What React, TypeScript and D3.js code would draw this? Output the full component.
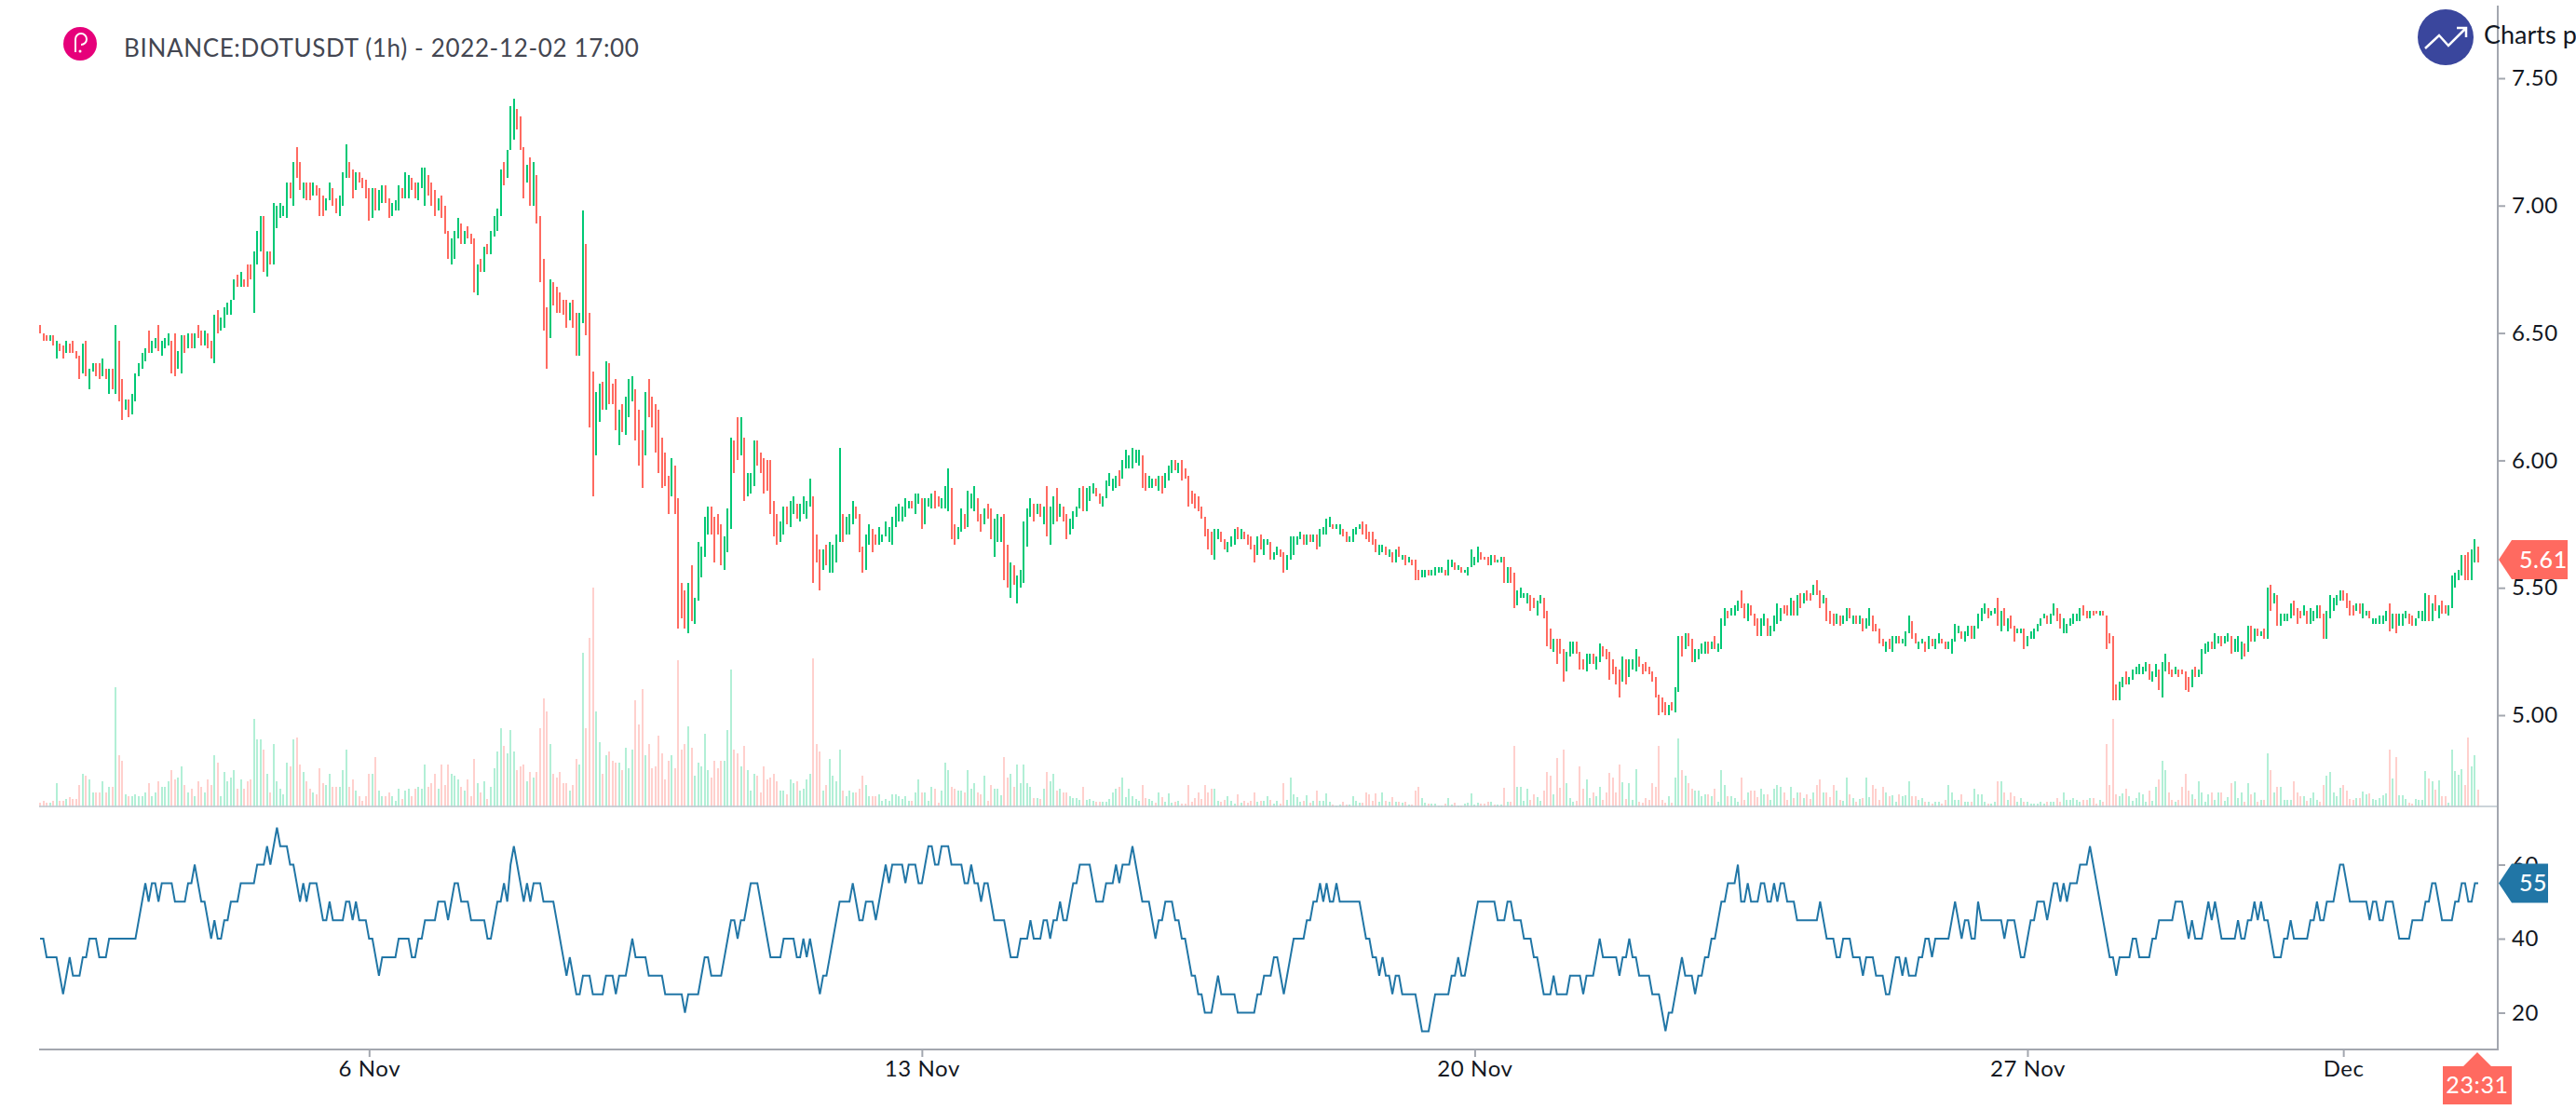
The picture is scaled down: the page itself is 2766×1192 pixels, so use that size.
import { useEffect, useRef } from 'react';
import * as d3 from 'd3';

const WIDTH = 2766;
const HEIGHT = 1192;
const FONT = 'Lato, "Open Sans", sans-serif';

// hourly bars, 1 Nov 20:00 -> 2 Dec 17:00, prices in cents
const highs = [
  653,650,649,649,649,647,646,645,647,646,647,643,641,646,647,636,638,638,638,640,
  636,636,636,653,647,632,624,624,626,634,638,642,644,651,647,648,653,647,648,650,
  647,650,643,649,649,650,650,650,653,651,651,650,647,657,659,656,660,662,663,671,
  673,674,671,677,677,682,690,696,696,682,682,701,700,701,700,709,709,717,723,717,
  709,709,709,709,708,707,704,703,709,707,703,704,713,724,717,714,713,713,711,710,
  707,707,707,706,708,708,703,701,702,708,707,713,712,711,709,709,715,715,712,709,
  706,703,704,700,690,687,690,695,693,690,692,689,687,677,679,684,685,690,696,699,
  714,717,722,739,742,738,735,723,716,719,717,712,696,679,660,671,670,668,666,663,
  663,662,663,658,658,698,685,658,635,627,630,631,639,638,630,632,620,622,625,632,
  633,628,620,612,627,632,625,622,620,609,603,594,601,598,585,552,549,552,559,546,
  568,566,578,582,582,578,579,575,570,581,609,608,617,617,609,595,595,608,608,603,
  601,600,600,584,579,576,582,582,584,586,583,583,586,584,593,586,571,565,565,567,
  568,567,571,605,579,578,579,584,582,579,566,571,575,573,571,574,571,576,574,578,
  582,583,582,585,584,584,587,587,585,585,585,587,588,586,585,590,597,589,575,574,
  581,579,588,587,590,585,579,581,583,581,577,579,578,579,567,560,559,555,557,576,
  581,585,583,583,583,582,590,582,586,589,583,582,579,577,580,582,589,590,589,590,
  591,589,587,586,592,595,593,594,596,600,604,602,605,604,604,602,595,594,593,593,
  594,594,595,598,600,600,599,600,597,594,588,587,586,582,578,573,572,573,573,572,
  569,568,570,573,574,573,572,571,570,567,570,571,569,569,568,564,566,565,564,563,
  570,570,570,572,571,571,571,571,571,573,574,577,578,575,575,575,573,572,570,573,
  574,575,576,575,572,572,569,567,567,566,565,564,565,566,563,563,562,561,561,557,
  557,557,557,557,558,558,558,557,561,561,560,559,558,557,558,565,562,566,564,562,
  562,563,563,561,562,562,558,558,556,549,550,548,548,547,546,545,547,546,541,534,
  530,530,530,526,525,529,529,529,525,522,524,524,524,523,528,527,526,525,522,519,
  518,523,522,522,522,526,523,520,521,519,517,515,508,507,505,504,505,511,531,531,
  532,532,530,526,526,528,529,529,529,531,528,538,542,541,542,543,545,549,544,544,
  543,540,538,538,540,538,535,539,544,542,543,543,546,545,547,548,548,549,548,551,
  553,549,547,546,541,540,540,539,539,542,542,539,539,539,538,538,542,539,536,534,
  530,529,530,531,531,531,530,533,539,537,532,529,530,529,531,530,530,532,530,529,
  529,530,536,535,533,533,535,535,535,540,542,544,542,541,542,546,541,542,538,539,
  535,534,534,534,531,533,534,536,538,540,539,540,544,542,540,538,536,538,540,540,
  542,543,541,541,541,541,541,541,539,532,531,512,513,515,517,515,518,519,520,519,
  521,520,517,520,518,521,524,521,518,519,518,518,517,515,518,519,518,526,528,529,
  529,532,531,531,531,532,531,530,531,529,528,535,535,534,534,533,534,550,551,548,
  547,540,540,540,544,545,542,541,543,541,542,541,543,543,540,541,547,546,547,549,
  549,548,545,543,544,544,544,541,541,538,538,539,539,541,544,540,540,540,540,541,
  540,539,538,541,541,548,547,544,547,543,545,543,543,555,556,557,563,563,564,565,
  569,566,
];

const lows = [
  650,647,647,647,645,640,643,640,642,642,642,640,632,634,633,628,635,633,632,633,
  632,626,628,626,623,616,620,617,618,623,633,636,639,642,642,644,643,641,644,645,
  634,633,636,634,642,644,644,644,648,645,645,644,640,638,650,651,652,657,657,663,
  668,668,668,668,671,658,677,682,674,672,677,677,691,695,696,695,703,700,711,706,
  703,702,702,704,704,696,696,698,702,700,697,696,700,711,711,703,706,709,707,703,
  694,695,698,698,701,701,695,696,698,698,703,703,703,706,703,702,707,700,704,700,
  696,698,695,689,679,677,679,687,685,685,687,685,666,665,674,674,681,681,688,690,
  696,708,711,722,726,730,722,703,709,700,700,693,670,651,636,648,661,658,658,657,
  652,655,652,641,641,654,649,613,586,602,615,620,620,622,622,612,606,611,610,617,
  623,608,598,589,602,617,613,603,595,589,590,579,586,579,534,538,534,532,537,536,
  545,554,562,571,571,560,571,559,557,564,573,595,600,602,584,586,587,590,598,595,
  587,588,579,570,567,568,571,575,574,579,577,576,579,577,582,552,560,549,557,559,
  556,556,560,568,568,571,571,575,577,564,556,557,567,564,567,567,568,570,568,567,
  574,576,576,578,581,581,579,583,573,575,582,581,581,582,581,581,580,569,567,569,
  572,573,574,581,580,576,572,575,577,569,562,568,568,553,550,546,551,544,550,552,
  566,578,576,579,578,575,570,567,575,576,578,576,569,571,573,578,581,580,580,584,
  587,586,583,582,585,590,588,589,590,593,597,597,597,599,598,589,588,589,589,590,
  588,587,589,592,595,596,595,592,593,582,583,581,580,577,570,565,563,561,569,568,
  565,564,566,567,569,569,569,567,565,560,563,565,563,567,561,561,563,562,556,557,
  561,563,567,569,567,567,568,568,565,566,571,571,574,573,573,571,570,568,568,568,
  571,573,571,569,568,567,564,563,564,563,562,560,560,562,561,559,560,559,553,553,
  554,554,555,555,555,556,556,555,555,558,557,557,556,556,555,558,559,560,561,561,
  559,559,560,560,560,552,552,552,542,543,546,546,544,541,542,539,544,538,527,526,
  525,520,524,513,517,523,524,524,518,518,517,520,520,518,521,523,522,514,516,512,
  507,513,512,515,518,517,519,516,517,516,513,507,500,501,500,500,502,501,509,523,
  526,527,521,521,522,524,524,524,526,526,525,526,535,538,539,539,541,542,538,537,
  539,535,531,531,535,531,531,533,536,537,540,539,539,539,539,542,544,545,545,547,
  547,542,544,537,536,535,536,535,536,537,538,536,536,536,533,534,535,533,533,528,
  527,525,526,525,528,528,528,527,532,530,528,526,528,525,526,527,526,528,528,526,
  526,524,529,532,530,529,531,530,530,534,537,540,538,539,540,535,533,535,533,534,
  529,532,532,526,527,530,530,533,535,538,536,536,539,537,534,532,532,535,536,537,
  537,539,538,538,539,540,539,539,526,528,506,506,506,511,512,512,514,516,516,516,
  517,514,513,515,510,507,517,516,515,516,515,516,510,509,511,515,515,516,524,525,
  526,526,528,527,528,529,524,525,525,522,523,525,529,529,531,531,530,530,541,544,
  535,535,537,537,538,539,536,538,539,536,536,537,538,538,530,530,538,541,543,545,
  545,542,539,539,541,540,538,539,538,536,536,536,536,537,533,534,532,535,535,538,
  536,535,535,538,537,537,537,537,541,538,540,540,539,542,550,553,555,553,553,553,
  560,560,
];

// 1 = up bar, 0 = down bar
const ups = [
  0,0,0,1,0,1,0,0,1,0,0,0,0,1,0,1,1,0,0,1,
  0,1,0,1,0,0,1,0,1,1,1,1,1,0,1,1,0,1,1,1,
  0,0,1,1,0,1,0,1,0,0,1,0,0,1,0,1,1,1,1,1,
  0,1,0,0,0,1,1,1,0,1,0,1,1,1,1,1,0,1,0,0,
  1,0,0,1,0,0,0,1,1,0,0,1,1,1,0,0,1,0,0,0,
  0,1,0,1,1,0,0,1,1,1,0,1,1,0,0,1,1,1,0,0,
  0,1,0,0,0,1,1,1,0,1,0,0,0,1,0,1,0,1,1,1,
  1,0,1,1,1,0,0,0,1,0,1,0,0,0,0,1,0,0,0,0,
  0,1,0,0,1,1,0,0,0,1,1,0,1,0,0,0,1,0,1,1,
  1,0,0,0,1,0,0,0,0,0,0,0,1,0,0,0,0,1,0,1,
  1,1,1,1,0,0,0,0,1,1,1,0,0,1,0,1,1,1,0,0,
  0,0,0,0,0,1,1,0,1,1,0,1,1,1,1,0,0,0,1,0,
  1,1,1,1,0,1,1,1,0,0,0,1,1,0,0,1,1,1,1,1,
  1,1,1,1,1,0,1,1,0,1,1,1,0,0,1,1,1,0,0,1,
  1,0,1,1,1,0,0,1,0,0,1,1,1,0,0,1,0,1,1,1,
  1,1,0,1,0,1,0,1,1,0,1,0,0,1,1,1,1,0,1,1,
  1,0,0,1,1,1,1,1,0,1,1,1,1,1,1,0,0,1,1,0,
  1,0,1,1,1,0,1,0,0,0,0,0,0,0,0,0,0,1,1,0,
  0,1,1,1,0,1,0,0,0,0,1,0,1,1,0,1,1,0,0,1,
  1,1,1,1,0,1,0,1,0,1,1,1,1,0,1,1,0,0,1,1,
  1,1,0,0,0,0,0,1,1,0,1,0,1,0,1,0,1,0,0,0,
  1,1,0,1,1,1,1,0,1,1,0,1,0,1,1,1,1,1,0,0,
  0,1,0,1,1,0,1,0,0,1,1,1,1,0,0,1,1,0,0,0,
  1,0,0,0,1,1,1,0,0,0,1,1,0,1,1,0,0,0,0,0,
  0,1,0,1,1,1,0,0,0,0,0,0,0,0,0,1,0,1,1,0,
  1,0,0,1,1,1,1,0,1,0,1,1,1,0,1,1,1,0,0,1,
  0,0,0,1,1,0,1,1,1,1,0,0,1,0,1,0,1,0,0,1,
  0,0,1,0,0,0,1,0,1,1,0,1,0,1,0,1,1,0,0,0,
  0,1,0,1,1,0,1,1,1,0,0,1,1,0,1,0,1,1,0,0,
  1,1,1,1,0,1,1,0,1,1,1,1,0,1,1,0,1,0,1,0,
  0,1,1,0,1,1,1,1,1,1,0,1,1,0,0,1,1,1,1,1,
  1,0,0,1,0,0,1,0,0,0,0,0,1,1,0,1,1,1,1,1,
  1,0,1,1,0,1,1,0,0,1,0,0,0,0,1,0,1,1,1,1,
  0,1,1,0,1,1,0,1,1,1,0,1,0,1,0,1,0,1,0,1,
  0,1,1,1,1,0,0,0,1,0,1,1,1,0,0,1,1,1,1,1,
  0,0,0,0,1,0,1,1,0,1,1,1,1,1,0,1,0,1,1,1,
  0,0,1,1,1,1,0,1,0,1,0,0,1,1,1,1,1,0,0,1,
  1,0,
];

const volumes = [
  4,6,4,4,6,25,6,6,8,10,8,8,23,35,33,29,15,15,15,27,
  15,21,21,128,55,49,13,11,11,13,11,11,15,25,11,15,27,21,21,27,
  39,29,31,43,23,15,19,11,27,21,15,29,23,55,47,11,37,27,31,39,
  19,29,19,27,29,94,72,72,61,35,15,67,27,19,13,47,43,72,74,45,
  37,27,19,15,13,41,25,23,35,21,21,21,39,61,21,29,17,11,6,11,
  35,35,53,17,11,11,15,11,6,19,8,17,19,11,19,21,19,45,21,25,
  35,19,45,23,45,35,33,29,21,17,29,11,51,25,15,27,8,21,41,59,
  84,65,57,82,59,39,43,45,27,37,31,37,84,116,102,67,35,31,37,25,
  25,17,23,51,45,165,84,181,235,102,69,35,55,59,49,47,47,39,63,41,
  61,114,88,126,55,67,41,43,76,57,29,49,55,41,157,61,67,86,63,33,
  47,43,78,39,31,49,41,49,49,82,147,61,57,43,65,39,17,35,33,15,
  43,29,31,35,27,17,17,13,29,25,27,17,19,29,35,159,67,59,17,23,
  51,33,27,61,17,11,17,15,15,19,33,23,11,11,11,13,6,8,6,13,
  13,11,8,11,6,6,15,29,15,15,6,21,19,4,17,47,39,21,19,17,
  17,15,39,19,25,15,13,33,6,23,19,19,12,53,31,35,21,45,25,45,
  25,21,9,9,8,19,37,27,35,17,19,15,15,11,9,9,7,21,7,8,
  6,5,5,5,5,8,15,19,21,31,10,19,11,8,6,23,9,8,6,4,
  15,10,5,14,4,5,6,3,3,23,5,9,15,8,23,15,19,19,6,5,
  7,11,6,3,13,4,6,4,6,15,5,6,6,11,7,3,6,3,25,7,
  31,13,10,5,6,12,4,6,17,6,6,14,5,2,1,2,5,2,2,11,
  6,4,4,15,13,6,14,5,15,6,5,10,5,5,4,5,2,2,17,21,
  9,4,3,3,3,1,1,3,9,2,4,1,1,3,4,14,2,4,3,3,
  5,5,2,2,2,20,5,5,65,21,21,6,19,7,13,10,6,17,37,33,
  13,52,20,61,25,9,5,6,43,19,29,9,15,11,21,7,15,36,31,15,
  45,26,8,25,7,40,5,4,9,7,25,21,65,7,4,11,4,31,73,39,
  33,25,19,17,17,11,13,13,11,19,5,39,23,11,11,9,5,31,7,15,
  17,17,10,19,13,13,7,19,23,21,15,7,21,9,15,15,9,13,8,15,
  23,29,15,15,10,23,17,7,6,31,13,9,5,8,9,31,10,23,19,7,
  21,15,11,12,5,13,11,12,27,11,11,7,9,5,5,3,5,5,3,7,
  23,15,7,7,13,5,5,5,19,13,13,5,3,3,5,27,27,15,7,15,
  11,5,9,5,5,3,3,3,5,3,5,5,5,9,5,15,7,7,9,7,
  5,7,7,9,9,3,7,5,67,23,94,13,11,14,19,11,6,9,15,13,
  5,17,6,21,29,49,39,15,7,5,7,21,35,17,13,8,27,15,5,13,
  15,7,15,15,6,10,25,27,9,15,5,25,13,15,5,7,7,57,39,15,
  21,21,7,7,7,27,15,11,11,6,9,15,7,5,23,33,37,15,11,20,
  23,17,8,7,9,9,16,13,14,8,7,9,12,14,61,30,53,12,12,8,
  4,3,8,7,7,38,30,27,18,28,11,11,4,61,38,34,40,23,74,43,
  55,18,
];

const rsi = [
  40,40,35,35,35,35,30,25,30,35,30,30,30,35,35,40,40,40,35,35,
  35,40,40,40,40,40,40,40,40,40,45,50,55,50,55,55,50,55,55,55,
  55,50,50,50,50,55,55,60,55,50,50,45,40,45,40,40,45,45,50,50,
  50,55,55,55,55,55,60,60,60,65,60,65,70,65,65,65,60,60,55,50,
  55,50,55,55,55,50,45,45,50,45,45,45,45,50,50,45,50,45,45,45,
  40,40,35,30,35,35,35,35,35,40,40,40,40,35,35,40,40,45,45,45,
  45,50,50,50,45,50,55,55,50,50,50,45,45,45,45,45,40,40,45,50,
  50,55,50,60,65,60,55,50,55,50,55,55,55,50,50,50,50,45,40,35,
  30,35,30,25,25,30,30,30,25,25,25,25,30,30,30,25,30,30,30,35,
  40,35,35,35,35,30,30,30,30,30,25,25,25,25,25,25,20,25,25,25,
  25,30,35,35,30,30,30,30,35,40,45,45,40,45,45,50,55,55,55,50,
  45,40,35,35,35,35,40,40,40,40,35,35,40,35,40,35,30,25,30,30,
  35,40,45,50,50,50,50,55,50,45,45,50,50,50,45,50,55,60,55,60,
  60,60,60,55,60,60,60,55,55,60,65,65,60,60,65,65,65,60,60,60,
  60,55,55,60,55,55,50,55,55,50,45,45,45,45,40,35,35,35,40,40,
  40,45,40,40,40,45,45,40,45,45,50,45,45,50,55,55,60,60,60,60,
  55,50,50,50,55,55,55,60,55,60,60,60,65,60,55,50,50,50,45,40,
  45,45,50,50,50,45,45,40,40,35,30,30,25,25,20,20,20,25,30,25,
  25,25,25,25,20,20,20,20,20,20,25,25,30,30,30,35,35,30,25,30,
  35,40,40,40,40,45,45,50,50,55,50,55,50,50,55,50,50,50,50,50,
  50,50,45,40,40,35,35,30,35,30,30,25,30,30,25,25,25,25,25,20,
  15,15,15,20,25,25,25,25,25,30,30,35,30,30,35,40,45,50,50,50,
  50,50,50,45,45,45,50,50,45,45,45,40,40,40,35,35,30,25,25,25,
  30,25,25,25,25,30,30,30,30,25,30,30,30,35,40,35,35,35,35,35,
  30,35,35,40,35,35,30,30,30,30,25,25,25,20,15,20,20,25,30,35,
  30,30,30,25,30,30,35,35,40,40,45,50,50,55,55,55,60,50,50,55,
  50,50,50,55,55,50,50,55,50,55,55,50,50,50,45,45,45,45,45,45,
  45,50,45,40,40,40,35,35,40,40,40,35,35,35,30,35,35,35,30,30,
  30,25,25,30,35,35,30,35,30,30,30,35,35,40,40,35,40,40,40,40,
  40,45,50,45,40,45,45,40,40,50,45,45,45,45,45,45,45,40,45,45,
  45,40,35,35,40,45,45,50,50,50,45,50,55,55,50,55,50,55,55,55,
  60,60,60,65,60,55,50,45,40,35,35,30,35,35,35,35,40,40,35,35,
  35,35,40,40,45,45,45,45,45,50,50,50,45,40,45,40,40,40,45,50,
  45,50,45,40,40,40,40,40,45,40,40,45,45,50,45,50,45,45,40,35,
  35,35,40,40,45,40,40,40,40,40,45,45,50,45,45,50,50,50,55,60,
  60,55,50,50,50,50,50,50,45,50,50,45,45,50,50,50,45,40,40,40,
  40,45,45,45,45,50,50,55,55,50,45,45,45,45,50,50,55,55,50,50,
  55,55,
];

const priceTicks = [5, 5.5, 6, 6.5, 7, 7.5];
const rsiTicks = [20, 40, 60];
const dateTicks = [100, 268, 436, 604, 700];
const dateLabels = ['6 Nov', '13 Nov', '20 Nov', '27 Nov', 'Dec'];

const lastPrice = 5.61;
const lastRsi = 55;
const countdown = '23:31';
const title = 'BINANCE:DOTUSDT (1h) - 2022-12-02 17:00';

const GREEN = '#00c875';
const RED = '#ff6a60';
const GREEN_VOL = '#b2efd6';
const RED_VOL = '#ffd0cd';
const RSI_BLUE = '#2176a6';
const AXIS = '#a3a7af';
const INK = '#131722';

const App = () => {
  const svgRef = useRef<SVGSVGElement | null>(null);

  useEffect(() => {
    if (svgRef.current === null) return;
    const svg = d3.select(svgRef.current);
    svg.selectAll('*').remove();

    const axisX = 2682;
    const bottom = 1127;
    const volBase = 866;

    const x = d3.scaleLinear().domain([0, 741]).range([43, 2661]);
    const yPrice = d3.scaleLinear().domain([5, 7.5]).range([768, 84]);
    const yVol = d3.scaleLinear().domain([0, 235]).range([volBase, 631]);
    const yRsi = d3.scaleLinear().domain([20, 60]).range([1087.5, 928.5]);

    const idx = d3.range(highs.length);

    // volume
    svg
      .append('g')
      .attr('shape-rendering', 'crispEdges')
      .selectAll('rect')
      .data(idx)
      .enter()
      .append('rect')
      .attr('x', (i) => Math.round(x(i)) - 1)
      .attr('y', (i) => yVol(volumes[i]))
      .attr('width', 2)
      .attr('height', (i) => yVol(0) - yVol(volumes[i]) + 1)
      .attr('fill', (i) => (ups[i] ? GREEN_VOL : RED_VOL));

    svg
      .append('line')
      .attr('x1', 42)
      .attr('x2', axisX)
      .attr('y1', volBase)
      .attr('y2', volBase)
      .attr('stroke', '#c3ccd2')
      .attr('stroke-opacity', 0.85)
      .attr('stroke-width', 2);

    // candles are only a couple of pixels wide here, so high-low is all that shows
    svg
      .append('g')
      .attr('shape-rendering', 'crispEdges')
      .selectAll('rect')
      .data(idx)
      .enter()
      .append('rect')
      .attr('x', (i) => Math.round(x(i)) - 1)
      .attr('y', (i) => yPrice(highs[i] / 100))
      .attr('width', 2)
      .attr('height', (i) => Math.max(2, yPrice(lows[i] / 100) - yPrice(highs[i] / 100)))
      .attr('fill', (i) => (ups[i] ? GREEN : RED));

    const rsiLine = d3
      .line<number>()
      .x((d, i) => x(i))
      .y((d) => yRsi(d));

    svg
      .append('path')
      .attr('d', rsiLine(rsi))
      .attr('fill', 'none')
      .attr('stroke', RSI_BLUE)
      .attr('stroke-width', 2);

    // axes
    const styleAxis = (g: d3.Selection<SVGGElement, unknown, null, undefined>) => {
      g.select('.domain').remove();
      g.selectAll('.tick line').attr('stroke', AXIS).attr('stroke-width', 2);
      g.selectAll('.tick text')
        .attr('fill', INK)
        .style('font-size', '24px')
        .style('letter-spacing', '0.6px')
        .style('font-family', FONT);
    };

    svg
      .append('g')
      .attr('transform', `translate(${axisX},0)`)
      .call(
        d3
          .axisRight(yPrice)
          .tickValues(priceTicks)
          .tickSize(8)
          .tickPadding(7)
          .tickFormat((d) => (d as number).toFixed(2)),
      )
      .call(styleAxis);

    svg
      .append('g')
      .attr('transform', `translate(${axisX},0)`)
      .call(d3.axisRight(yRsi).tickValues(rsiTicks).tickSize(8).tickPadding(7))
      .call(styleAxis);

    svg
      .append('g')
      .attr('transform', `translate(0,${bottom})`)
      .call(
        d3
          .axisBottom(x)
          .tickValues(dateTicks)
          .tickSize(8)
          .tickPadding(4)
          .tickFormat((d, i) => dateLabels[i]),
      )
      .call(styleAxis);

    svg
      .append('line')
      .attr('x1', axisX)
      .attr('x2', axisX)
      .attr('y1', 6)
      .attr('y2', bottom + 1)
      .attr('stroke', AXIS)
      .attr('stroke-width', 2);
    svg
      .append('line')
      .attr('x1', 42)
      .attr('x2', axisX)
      .attr('y1', bottom)
      .attr('y2', bottom)
      .attr('stroke', AXIS)
      .attr('stroke-width', 2);

    // last value badges
    const badge = (value: string, yc: number, right: number, fill: string) => {
      const h = 21;
      svg
        .append('path')
        .attr('d', `M${axisX + 1},${yc}L2697,${yc - h}H${right}V${yc + h}H2697Z`)
        .attr('fill', fill);
      svg
        .append('text')
        .attr('x', 2705)
        .attr('y', yc + 9)
        .attr('fill', '#fff')
        .style('font-size', '25px')
        .style('font-weight', 500)
        .style('letter-spacing', '0.6px')
        .style('font-family', FONT)
        .text(value);
    };
    badge(lastPrice.toFixed(2), yPrice(lastPrice), 2757, RED);
    badge(String(lastRsi), yRsi(lastRsi), 2736, RSI_BLUE);

    const tx = Math.round(x(741)) - 1;
    svg
      .append('path')
      .attr('d', `M${tx},1130L${tx + 15},1145H2697V1186H2623V1145H${tx - 15}Z`)
      .attr('fill', RED);
    svg
      .append('text')
      .attr('x', 2660)
      .attr('y', 1174)
      .attr('text-anchor', 'middle')
      .attr('fill', '#fff')
      .style('font-size', '25px')
      .style('letter-spacing', '0.6px')
      .style('font-family', FONT)
      .text(countdown);

    // header
    svg
      .append('text')
      .attr('x', 133)
      .attr('y', 61)
      .attr('fill', '#434651')
      .style('font-size', '26px')
      .style('letter-spacing', '0.65px')
      .style('font-family', FONT)
      .text(title);

    svg.append('circle').attr('cx', 86).attr('cy', 47).attr('r', 18).attr('fill', '#e6007a');
    svg
      .append('path')
      .attr('d', 'M81,56V42a6,6 0 1 1 6,6')
      .attr('fill', 'none')
      .attr('stroke', '#fff')
      .attr('stroke-width', 2);
    svg.append('circle').attr('cx', 86).attr('cy', 55).attr('r', 1.5).attr('fill', '#fff');

    // watermark
    const logo = svg.append('g').attr('transform', 'translate(2626,40)');
    logo.append('circle').attr('r', 30).attr('fill', '#3a469d');
    logo
      .append('path')
      .attr('d', 'M-22,12L-7,-2L3,9L21,-9M12,-10H22V0')
      .attr('fill', 'none')
      .attr('stroke', '#fff')
      .attr('stroke-width', 2.5);
    svg
      .append('text')
      .attr('x', 2667)
      .attr('y', 47)
      .attr('fill', INK)
      .style('font-size', '27px')
      .style('font-family', FONT)
      .text('Charts p');
  }, []);

  return (
    <svg
      ref={svgRef}
      width={WIDTH}
      height={HEIGHT}
      style={{ position: 'absolute', left: 0, top: 0, display: 'block', background: '#fff' }}
    />
  );
};

export default App;
